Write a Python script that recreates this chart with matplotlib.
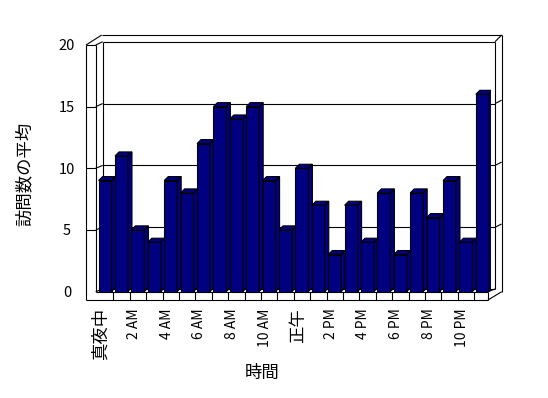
import matplotlib.pyplot as plt
from matplotlib.patches import Polygon
import numpy as np

plt.rcParams['font.family'] = ['Noto Sans CJK JP', 'DejaVu Sans']

# 訪問数の平均 per hour (0..23)
hours = list(range(24))
visits = [9, 11, 5, 4, 9, 8, 12, 15, 14, 15, 9, 5, 10, 7, 3, 7, 4, 8, 3, 8, 6, 9, 4, 16]
hour_labels = ['真夜中', '2 AM', '4 AM', '6 AM', '8 AM', '10 AM',
               '正午', '2 PM', '4 PM', '6 PM', '8 PM', '10 PM']
y_ticks = [0, 5, 10, 15, 20]

W, H = 548, 398
fig = plt.figure(figsize=(W / 100, H / 100), dpi=100)

# pixel-space layer for the 3D walls / floor
deco = fig.add_axes([0, 0, 1, 1])
deco.set_xlim(0, W)
deco.set_ylim(H, 0)
deco.axis('off')

# front plane: x -0.5..23.5 -> px 96.9..490.5, y 0..20 -> px 291.5..45
x0, x1 = 96.9, 490.5
y0, y1 = 291.5, 45.0
ax = fig.add_axes([x0 / W, (H - y0) / H, (x1 - x0) / W, (y0 - y1) / H])
ax.set_xlim(-0.5, 23.5)
ax.set_ylim(0, 20)
ax.patch.set_alpha(0)
for s in ax.spines.values():
    s.set_visible(False)

lw = 0.8
k = 'black'

def line(xs, ys):
    deco.plot(xs, ys, color=k, lw=lw, solid_capstyle='butt')

# walls
line([86, 86], [45, 300])
line([95.7, 95.7], [45, 291.7])
line([86, 95.7], [45, 45])
line([86, 101.7], [45, 35])
line([95.7, 102.7], [45, 41.7])
line([101.7, 501.7], [35, 35])
line([102.7, 495], [41.7, 41.7])
line([102.7, 102.7], [41.7, 289])
line([495, 495], [41.7, 289])
line([495, 501.7], [41.7, 35])
line([501.7, 501.7], [35, 291.7])
line([102.7, 495], [289, 289])
line([95.7, 102.7], [291.7, 289])
# floor
line([86, 488], [300, 300])
line([95.7, 488], [291.7, 291.7])
line([488, 488], [291.7, 300])
line([488, 501.7], [300, 291.7])
line([488, 495], [291.7, 289])

# gridlines on left wall + back wall
for v in y_ticks[1:-1]:
    fy = y0 - v * (y0 - y1) / 20
    by = 289.2 - v * (289.2 - 41.7) / 20
    line([86, 95.7], [fy, fy])
    line([95.7, 102.7], [fy, by])
    line([102.7, 495], [by, by])
    line([495, 501.7], [by, by - 3.4])

# floor category ticks
ax.vlines(np.arange(0.5, 23, 1), -0.69, -0.016, color=k, lw=lw, clip_on=False)

# 3D bars
bw = 0.79
dx, dy = 0.244, 0.324
navy = '#000080'
for x, v in zip(hours, visits):
    l, r = x - bw / 2, x + bw / 2
    ax.bar(x, v, width=bw, color=navy, edgecolor=k, lw=lw, zorder=3)
    side = Polygon([(r, 0), (r + dx, dy), (r + dx, v + dy), (r, v)],
                   closed=True, facecolor=navy, edgecolor=k, lw=lw, zorder=3)
    top = Polygon([(l, v), (l + dx, v + dy), (r + dx, v + dy), (r, v)],
                  closed=True, facecolor=navy, edgecolor=k, lw=lw, zorder=3)
    ax.add_patch(side)
    ax.add_patch(top)

# y tick labels
ax.set_yticks(y_ticks)
ax.set_yticklabels([str(t) for t in y_ticks], fontsize=10.5)
ax.tick_params(axis='y', length=0, pad=21.5)
for t in ax.get_yticklabels():
    t.set_horizontalalignment('center')

# x tick labels
ax.set_xticks(np.array(hours[::2]) - 0.25)
ax.set_xticklabels(hour_labels, rotation=90)
ax.tick_params(axis='x', length=0, pad=12)
for t in ax.get_xticklabels():
    if t.get_text() in ('真夜中', '正午'):
        t.set_fontsize(12.5)
    else:
        t.set_fontsize(10)

deco.text(262, 373, '時間', fontsize=12.5, ha='center', va='center')
deco.text(25, 174, '訪問数の平均', fontsize=12.5, ha='center', va='center',
          rotation=90)

fig.savefig('out.png', dpi=100)
